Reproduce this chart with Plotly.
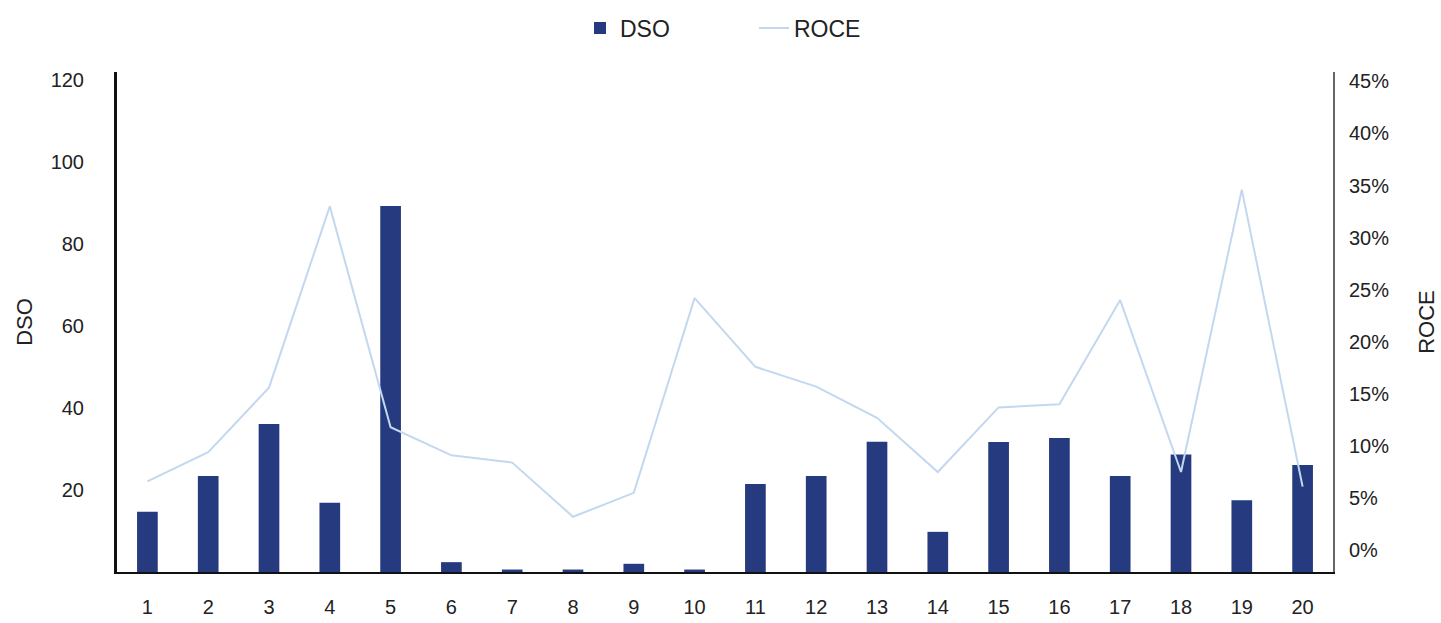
import plotly.graph_objects as go

# Company index along the x axis
companies = [str(i) for i in range(1, 21)]

# Days sales outstanding (left axis)
dso = [14.7, 23.4, 36.1, 16.9, 89.3, 2.4, 0.6, 0.6, 2.0, 0.6,
       21.5, 23.4, 31.8, 9.8, 31.7, 32.7, 23.4, 28.7, 17.5, 26.1]

# Return on capital employed, in percent (right axis)
roce = [6.6, 9.4, 15.6, 33.0, 11.8, 9.1, 8.4, 3.2, 5.5, 24.2,
        17.6, 15.7, 12.7, 7.5, 13.7, 14.0, 24.0, 7.5, 34.6, 6.1]

dso_ticks = [20, 40, 60, 80, 100, 120]
roce_ticks = [0, 5, 10, 15, 20, 25, 30, 35, 40, 45]
roce_labels = [f"{v}%" for v in roce_ticks]

FONT = "Liberation Sans Narrow, Arial Narrow, Liberation Sans, Arial, sans-serif"
NAVY = "#253a7f"
LIGHT_BLUE = "#c3d8ee"

fig = go.Figure()

fig.add_trace(go.Bar(
    x=companies, y=dso, name="DSO",
    marker=dict(color=NAVY, line=dict(width=0)),
    yaxis="y",
))

fig.add_trace(go.Scatter(
    x=companies, y=roce, name="ROCE",
    mode="lines", line=dict(color=LIGHT_BLUE, width=2),
    yaxis="y2",
))

fig.update_layout(
    width=1441, height=623,
    margin=dict(l=117, r=108, t=72, b=51),
    paper_bgcolor="white", plot_bgcolor="white",
    font=dict(family=FONT, size=20, color="#222"),
    bargap=0.66,
    showlegend=True,
    legend=dict(
        orientation="h", x=580 / 1441, xanchor="left", xref="container",
        y=0.955, yanchor="middle", yref="container",
        font=dict(size=23, color="#222"),
        entrywidth=129, entrywidthmode="pixels",
    ),
    xaxis=dict(
        type="category", showgrid=False, zeroline=False, automargin=False,
        showline=True, linecolor="#111", linewidth=2,
        ticks="", ticklabelstandoff=16,
        tickfont=dict(size=20),
    ),
    yaxis=dict(
        range=[0, 122], tickvals=dso_ticks, showgrid=False, zeroline=False,
        automargin=False,
        showline=True, linecolor="#111", linewidth=3,
        ticks="", ticklabelstandoff=26, tickfont=dict(size=20),
        title=dict(text="DSO", font=dict(size=22), standoff=12),
    ),
    yaxis2=dict(
        overlaying="y", side="right", range=[-2.1, 45.9], automargin=False,
        tickvals=roce_ticks, ticktext=roce_labels,
        showgrid=False, zeroline=False,
        showline=True, linecolor="#666", linewidth=2,
        ticks="", ticklabelstandoff=10, tickfont=dict(size=20),
        title=dict(text="ROCE", font=dict(size=22), standoff=30),
    ),
)

fig.write_html("out.html")
